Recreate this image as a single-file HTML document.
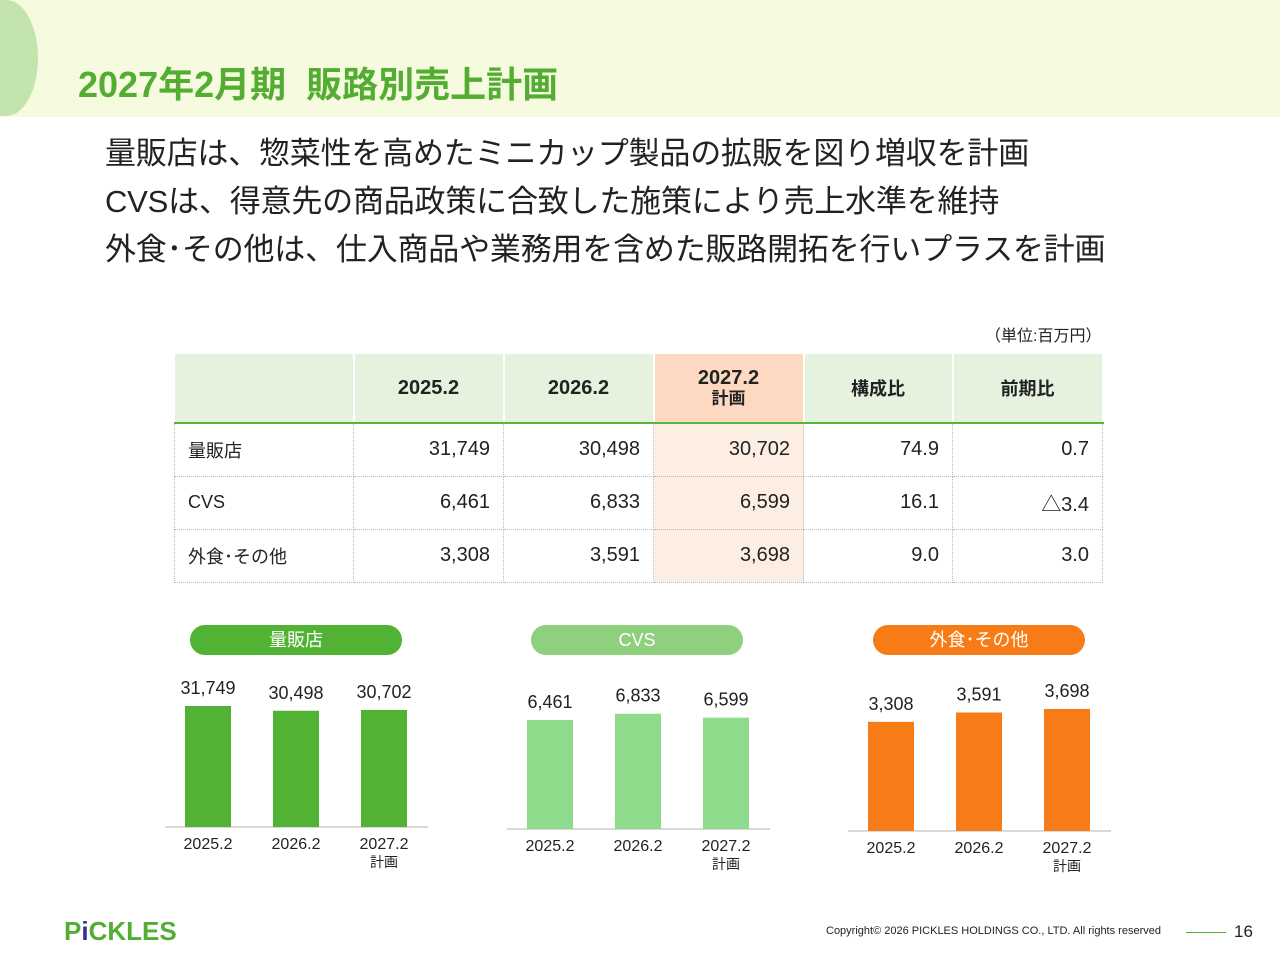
<!DOCTYPE html>
<html><head><meta charset="utf-8"><style>
body{margin:0;width:1280px;height:960px;position:relative;background:#fff;font-family:"Liberation Sans","Noto Sans CJK JP",sans-serif;overflow:hidden;color:#222}
.abs{position:absolute}
table{border-collapse:collapse;position:absolute;left:174px;top:354px;font-size:20px;table-layout:fixed;width:928px}
td{height:53px;border:1px dotted #bbb;padding:0 13px;text-align:right;box-sizing:border-box}
th{height:68px;background:#e4f2de;font-weight:bold;border-right:2px solid #fff;border-bottom:2px solid #5ab33c;font-size:20px;padding:0}
td:first-child{text-align:left;font-size:18px}
.hl{background:#fdeee3}
th.hl{background:#fcd9c0}
.pill{position:absolute;height:30px;width:212px;border-radius:15px;color:#fff;text-align:center;line-height:30px;font-size:18px;top:625px}
</style></head><body>
<div class="abs" style="left:0;top:0;width:1280px;height:117px;background:#f6fbdf"></div>
<div class="abs" style="left:0;top:0;width:38px;height:116px;border-radius:0 100% 100% 0 / 0 60% 60% 0;background:#c4e4ae"></div>
<div class="abs" style="left:78px;top:56px;font-size:36px;font-weight:bold;color:#52ad32">2027年2月期&nbsp; 販路別売上計画</div>
<div class="abs" style="left:105px;top:130px;font-size:31px;line-height:48px;color:#222;letter-spacing:-0.2px">量販店は、惣菜性を高めたミニカップ製品の拡販を図り増収を計画<br>CVSは、得意先の商品政策に合致した施策により売上水準を維持<br>外食･その他は、仕入商品や業務用を含めた販路開拓を行いプラスを計画</div>
<div class="abs" style="left:985px;top:322px;font-size:16px">（単位:百万円）</div>
<table>
<colgroup><col style="width:179px"><col style="width:150px"><col style="width:150px"><col style="width:150px"><col style="width:149px"><col style="width:150px"></colgroup>
<tr><th></th><th>2025.2</th><th>2026.2</th><th class="hl" style="line-height:20px">2027.2<br><span style="font-size:17px">計画</span></th><th style="font-size:18px">構成比</th><th style="font-size:18px">前期比</th></tr>
<tr><td>量販店</td><td>31,749</td><td>30,498</td><td class="hl">30,702</td><td>74.9</td><td>0.7</td></tr>
<tr><td>CVS</td><td>6,461</td><td>6,833</td><td class="hl">6,599</td><td>16.1</td><td>△3.4</td></tr>
<tr><td>外食･その他</td><td>3,308</td><td>3,591</td><td class="hl">3,698</td><td>9.0</td><td>3.0</td></tr>
</table>
<div class="pill" style="left:190px;background:#52b233">量販店</div>
<div class="pill" style="left:531px;background:#8fd07e">CVS</div>
<div class="pill" style="left:873px;background:#f77b16">外食･その他</div>
<svg class="abs" style="left:0;top:0" width="1280" height="960" id="charts"></svg>
<div class="abs" style="left:64px;top:916px;font-size:26px;font-weight:bold;color:#52ad32">P<span style="color:#3a2f8a">i</span>CKLES</div>
<div class="abs" style="left:826px;top:925px;font-size:11px">Copyright© 2026 PICKLES HOLDINGS CO., LTD. All rights reserved</div>
<div class="abs" style="left:1186px;top:932px;width:40px;height:1px;background:#52ad32"></div>
<div class="abs" style="left:1234px;top:922px;font-size:17px">16</div>
<script>
const categories=["2025.2","2026.2","2027.2"];
const ryohanten=[31749,30498,30702];
const cvs=[6461,6833,6599];
const gaishoku=[3308,3591,3698];
const svg=document.getElementById('charts');
const NS='http://www.w3.org/2000/svg';
function mk(t,a){const e=document.createElementNS(NS,t);for(const k in a)e.setAttribute(k,a[k]);svg.appendChild(e);return e;}
function chart(name,vals,x0,base,scale,color){
  const ax=mk('line',{x1:x0,x2:x0+263,y1:base,y2:base,stroke:'#ccc','stroke-width':1.5});
  
  
  vals.forEach((v,i)=>{
    const cx=x0+43+i*88, h=v*scale;
    const r=mk('rect',{x:cx-23,y:base-h,width:46,height:h,fill:color});
    
    
    const t=mk('text',{x:cx,y:base-h-12,'text-anchor':'middle','font-size':18,fill:'#222'});
    t.textContent=v.toLocaleString('en-US');
    
    
    const c=mk('text',{x:cx,y:base+22,'text-anchor':'middle','font-size':16,fill:'#222'});
    c.textContent=categories[i];
    
    
    if(i==2){const p=mk('text',{x:cx,y:base+40,'text-anchor':'middle','font-size':14,fill:'#222'});p.textContent='計画';
    
    }
  });
}
chart('ryohanten',ryohanten,165,827,121/31749,'#52b233');
chart('cvs',cvs,507,829,109/6461,'#8fdb8c');
chart('gaishoku',gaishoku,848,831,0.0330,'#f77b16');
</script>
</body></html>
